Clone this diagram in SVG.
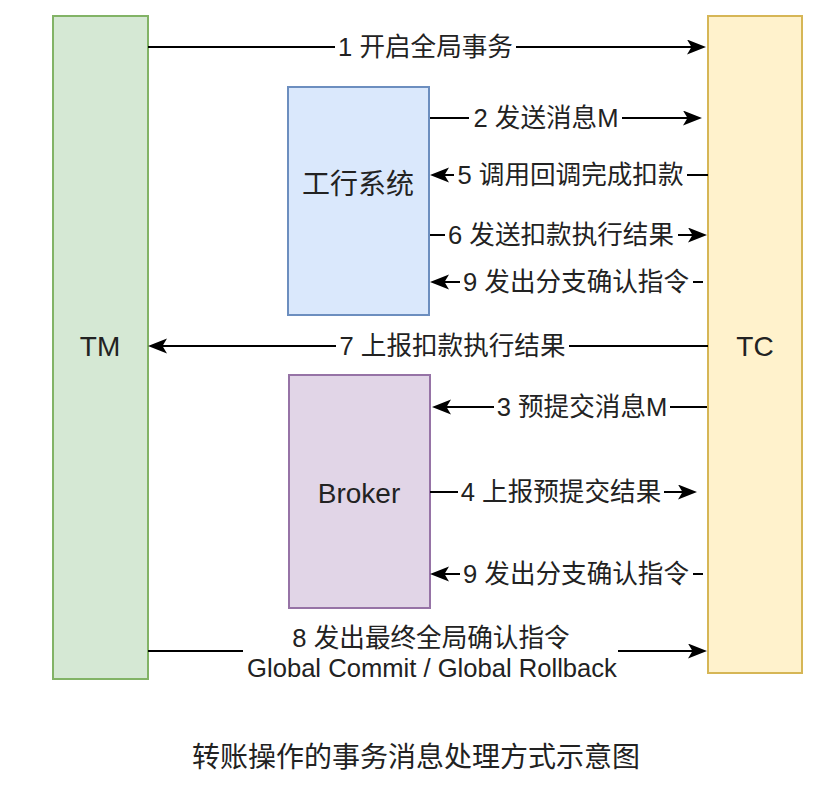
<svg xmlns="http://www.w3.org/2000/svg" width="825" height="795" viewBox="0 0 825 795">
<defs>
<marker id="arr" markerUnits="userSpaceOnUse" markerWidth="20" markerHeight="16" viewBox="0 0 20 16" refX="15" refY="7.5" orient="auto">
<path d="M0,0 L19,7.5 L0,15 L4.5,7.5 Z" fill="#000"/>
</marker>
<style>
text{font-family:"Liberation Sans","Noto Sans CJK SC",sans-serif;fill:#222}
.node{stroke-width:2}
.nl{font-size:28px;text-anchor:middle}
.el{font-size:25.6px;text-anchor:middle}
.ln{fill:none;stroke:#000;stroke-width:2;marker-end:url(#arr)}
.bg{fill:#fff}
</style>
</defs>
<rect width="825" height="795" fill="#fff"/>
<g id="TM"><rect class="node" x="53" y="16" width="95" height="663" fill="#d5e8d4" stroke="#82b366"/><text class="nl" x="100" y="356">TM</text></g>
<g id="TC"><rect class="node" x="708" y="16" width="94" height="657" fill="#fff2cc" stroke="#d6b656"/><text class="nl" x="755" y="356">TC</text></g>
<g id="ICBC"><rect class="node" x="288" y="87" width="141" height="228" fill="#dae8fc" stroke="#6c8ebf"/><text class="nl" x="358" y="194">工行系统</text></g>
<g id="Broker"><rect class="node" x="289" y="375" width="141" height="233" fill="#e1d5e7" stroke="#9673a6"/><text class="nl" x="359" y="503">Broker</text></g>
<g id="connectors">
<g><path class="ln" d="M148,47 H702"/><rect class="bg" x="335" y="33" width="181" height="28"/><text class="el" x="425.5" y="56">1 开启全局事务</text></g>
<g><path class="ln" d="M430,118 H698"/><rect class="bg" x="469" y="104" width="153" height="28"/><text class="el" x="546" y="127">2 发送消息M</text></g>
<g><path class="ln" d="M708,175 H434"/><rect class="bg" x="454" y="161" width="233" height="28"/><text class="el" x="570.5" y="184">5 调用回调完成扣款</text></g>
<g><path class="ln" d="M430,235 H703"/><rect class="bg" x="445" y="221" width="233" height="28"/><text class="el" x="561" y="244">6 发送扣款执行结果</text></g>
<g><path class="ln" d="M703,282 H434"/><rect class="bg" x="460" y="268" width="233" height="28"/><text class="el" x="576" y="291">9 发出分支确认指令</text></g>
<g><path class="ln" d="M708,346 H152"/><rect class="bg" x="336" y="332" width="233" height="28"/><text class="el" x="452.5" y="355">7 上报扣款执行结果</text></g>
<g><path class="ln" d="M707,407 H436"/><rect class="bg" x="494" y="393" width="176" height="28"/><text class="el" x="582" y="416">3 预提交消息M</text></g>
<g><path class="ln" d="M430,492 H693"/><rect class="bg" x="458" y="478" width="206" height="28"/><text class="el" x="561" y="501">4 上报预提交结果</text></g>
<g><path class="ln" d="M703,574 H434"/><rect class="bg" x="460" y="560" width="233" height="28"/><text class="el" x="576" y="583">9 发出分支确认指令</text></g>
<g><path class="ln" d="M148,651 H703"/><rect class="bg" x="243" y="624" width="375" height="60"/><text class="el" x="431" y="647">8 发出最终全局确认指令</text><text class="el" x="432" y="677">Global Commit / Global Rollback</text></g>
</g>
<text x="416" y="767" style="font-size:28px;text-anchor:middle">转账操作的事务消息处理方式示意图</text>
</svg>
